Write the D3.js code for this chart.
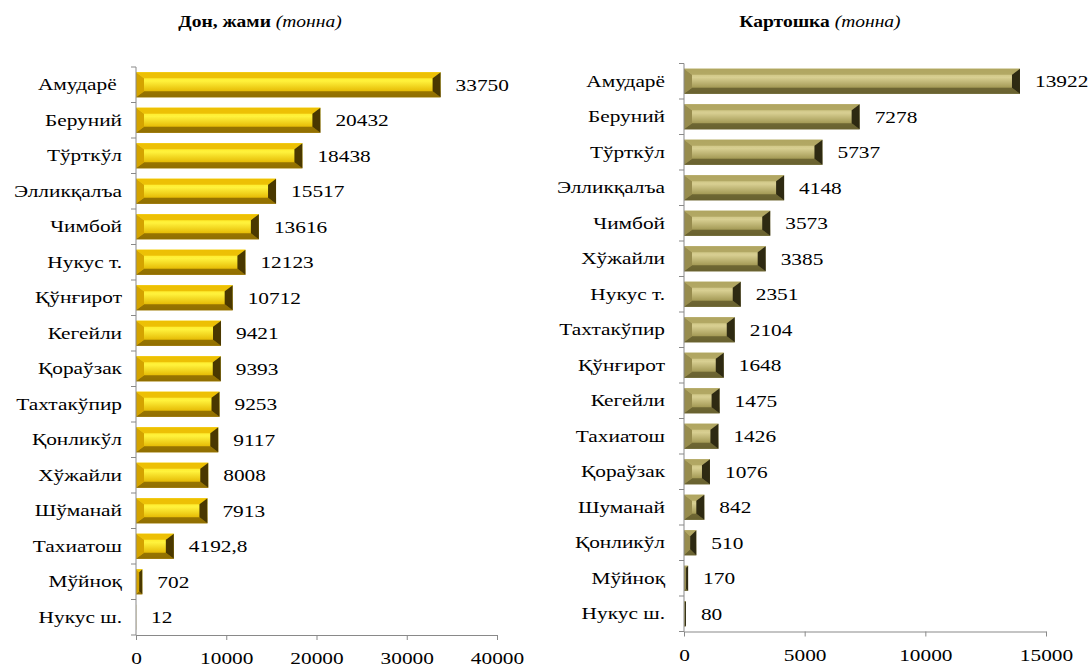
<!DOCTYPE html>
<html>
<head>
<meta charset="utf-8">
<script src="https://cdn.jsdelivr.net/npm/d3@7"></script>
<style>
  body { margin: 0; background: #fff; }
</style>
</head>
<body>
<svg width="1091" height="668"></svg>
<script>
// Дон, жами (тонна)
var grainNames = ["Амударё ", "Беруний", "Тўрткўл", "Элликқалъа", "Чимбой", "Нукус т.", "Қўнғирот", "Кегейли",
  "Қораўзак", "Тахтакўпир", "Қонликўл", "Хўжайли", "Шўманай", "Тахиатош", "Мўйноқ", "Нукус ш."];
var grainValues = [33750, 20432, 18438, 15517, 13616, 12123, 10712, 9421, 9393, 9253, 9117, 8008, 7913, 4192.8, 702, 12];
var grainTicks = [0, 10000, 20000, 30000, 40000];

// Картошка (тонна)
var potatoNames = ["Амударё", "Беруний", "Тўрткўл", "Элликқалъа", "Чимбой", "Хўжайли", "Нукус т.", "Тахтакўпир",
  "Қўнғирот", "Кегейли", "Тахиатош", "Қораўзак", "Шуманай", "Қонликўл", "Мўйноқ", "Нукус ш."];
var potatoValues = [13922, 7278, 5737, 4148, 3573, 3385, 2351, 2104, 1648, 1475, 1426, 1076, 842, 510, 170, 80];
var potatoTicks = [0, 5000, 10000, 15000];

var FONT = "'Liberation Serif', 'Times New Roman', Tinos, serif";
var SX = 1.22; // text in the picture is stretched sideways

var svg = d3.select("svg");
var defs = svg.append("defs");

function makeGradient(id, stops) {
  var g = defs.append("linearGradient").attr("id", id)
    .attr("x1", 0).attr("y1", 0).attr("x2", 0).attr("y2", 1);
  stops.forEach(function(s) {
    g.append("stop").attr("offset", s[0]).attr("stop-color", s[1]);
  });
}

makeGradient("goldFace", [[0, "#ffe414"], [0.35, "#fff23c"], [0.75, "#e6bc06"], [1, "#b58c08"]]);
makeGradient("oliveFace", [[0, "#c2b872"], [0.35, "#d8cf92"], [0.75, "#a49a56"], [1, "#7e753c"]]);

var gold = { face: "url(#goldFace)", top: "#eab800", bottom: "#8a6800", left: "#d4a300", right: "#4a3800" };
var olive = { face: "url(#oliveFace)", top: "#ada25e", bottom: "#655e2e", left: "#978c4e", right: "#2e2a12" };

function drawChart(opt) {
  var g = svg.append("g");

  var x = d3.scaleLinear().domain([0, opt.max]).range([opt.left, opt.right]);
  var y = d3.scaleBand().domain(opt.names).range([opt.top, opt.bottom]).paddingInner(0.29).paddingOuter(0.145);

  // title
  var t = g.append("text")
    .attr("transform", "translate(" + opt.titleX + ",27) scale(" + SX + ",1)")
    .attr("text-anchor", "middle")
    .style("font-family", FONT)
    .style("font-size", "16px");
  t.append("tspan").style("font-weight", "bold").text(opt.title);
  t.append("tspan").style("font-style", "italic").text(" (тонна)");

  // bars
  opt.values.forEach(function(v, i) {
    var x0 = x(0), x1 = x(v);
    var y0 = y(opt.names[i]), y1 = y0 + y.bandwidth();
    var w = x1 - x0;
    var bx = Math.min(8, w / 2), by = Math.min(6, w / 2);
    var bar = g.append("g");
    bar.append("rect").attr("x", x0).attr("y", y0).attr("width", w).attr("height", y1 - y0)
      .attr("fill", opt.style.face);
    bar.append("polygon")
      .attr("points", [[x0, y0], [x1, y0], [x1 - bx, y0 + by], [x0 + bx, y0 + by]].join(" "))
      .attr("fill", opt.style.top).attr("opacity", 0.85);
    bar.append("polygon")
      .attr("points", [[x0, y1], [x1, y1], [x1 - bx, y1 - by], [x0 + bx, y1 - by]].join(" "))
      .attr("fill", opt.style.bottom).attr("opacity", 0.85);
    bar.append("polygon")
      .attr("points", [[x0, y0], [x0 + bx, y0 + by], [x0 + bx, y1 - by], [x0, y1]].join(" "))
      .attr("fill", opt.style.left);
    bar.append("polygon")
      .attr("points", [[x1, y0], [x1 - bx, y0 + by], [x1 - bx, y1 - by], [x1, y1]].join(" "))
      .attr("fill", opt.style.right);

    g.append("text")
      .attr("transform", "translate(" + (x1 + 15) + "," + (y0 + y.bandwidth() / 2) + ") scale(" + SX + ",1)")
      .attr("dy", "0.34em")
      .style("font-family", FONT)
      .style("font-size", "17.5px")
      .text(String(v).replace(".", ","));
  });

  // y axis
  var yAxis = g.append("g")
    .attr("transform", "translate(" + x(0) + ",0)")
    .call(d3.axisLeft(y).tickSize(0));
  yAxis.selectAll("text")
    .attr("x", -opt.labelGap / SX)
    .attr("transform", "scale(" + SX + ",1)")
    .style("font-size", "17.5px").style("font-family", FONT).style("white-space", "pre")
    .attr("fill", "#000");
  // boundary ticks between categories
  var step = y.step();
  d3.range(opt.names.length + 1).forEach(function(k) {
    var yy = opt.top + k * step;
    yAxis.append("line").attr("x1", -5).attr("x2", 0).attr("y1", yy).attr("y2", yy)
      .attr("stroke", "#898989");
  });
  yAxis.select(".domain").attr("stroke", "#898989").attr("d", "M0," + opt.top + "V" + opt.bottom);

  // x axis
  var xAxis = g.append("g")
    .attr("transform", "translate(0," + opt.bottom + ")")
    .call(d3.axisBottom(x).tickValues(opt.ticks).tickSize(5).tickSizeOuter(0).tickPadding(12).tickFormat(d3.format("d")));
  xAxis.select(".domain").attr("stroke", "#898989");
  xAxis.selectAll(".tick line").attr("stroke", "#898989");
  xAxis.selectAll("text")
    .attr("transform", "scale(" + SX + ",1)")
    .style("font-size", "17.5px").style("font-family", FONT).attr("fill", "#000");
}

drawChart({
  names: grainNames, values: grainValues, ticks: grainTicks, max: 40000,
  left: 136, right: 497, top: 67, bottom: 635, labelGap: 14,
  title: "Дон, жами", titleX: 260, style: gold
});

drawChart({
  names: potatoNames, values: potatoValues, ticks: potatoTicks, max: 15000,
  left: 684, right: 1046, top: 63.5, bottom: 631.5, labelGap: 19,
  title: "Картошка", titleX: 820, style: olive
});
</script>
</body>
</html>
